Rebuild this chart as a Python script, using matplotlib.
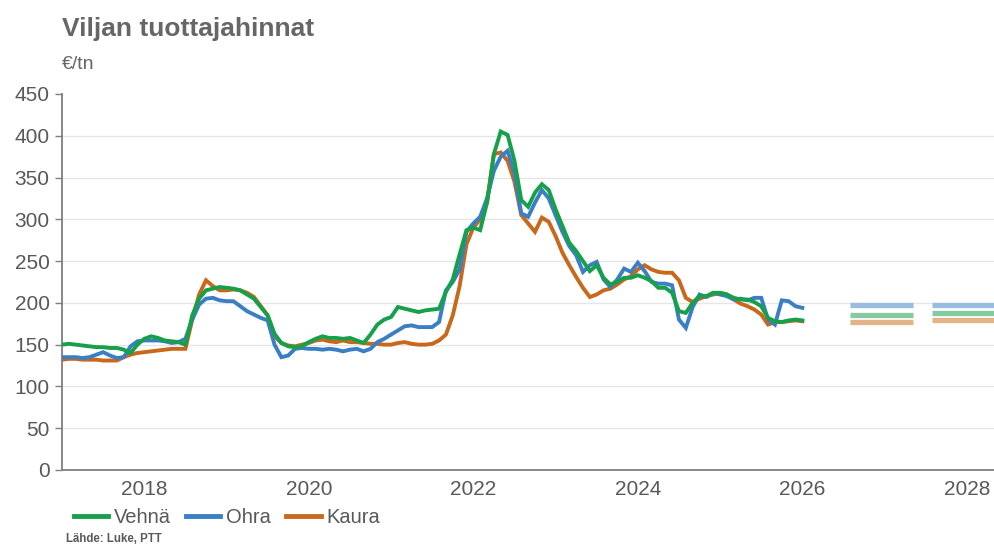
import matplotlib
matplotlib.use("Agg")
import matplotlib.pyplot as plt
import numpy as np

plt.rcParams['font.family'] = ['Liberation Sans', 'DejaVu Sans']

# monthly prices, Jan 2017 .. Jan 2026 (EUR/tn)
start_year = 2017
vehna = [150, 151, 150, 149, 148, 147, 147, 146, 146, 144, 140, 150,
         157, 160, 158, 155, 154, 153, 150, 185, 205, 215, 217, 219,
         218, 217, 215, 210, 205, 195, 185, 163, 152, 148, 147, 148,
         153, 157, 160, 158, 158, 157, 158, 155, 152, 162, 174, 180,
         183, 195, 193, 191, 189, 191, 192, 193, 213, 228, 258, 287,
         290, 287, 320, 378, 405, 401, 370, 323, 315, 332, 342, 335,
         312, 292, 272, 262, 250, 238, 245, 230, 222, 225, 230, 230,
         233, 230, 226, 218, 218, 212, 190, 188, 200, 208, 208, 212,
         212, 210, 206, 204, 204, 201, 196, 182, 178, 177, 179, 180,
         179]
ohra = [135, 135, 135, 134, 135, 138, 141, 137, 134, 135, 148, 154,
        155, 155, 155, 154, 152, 153, 157, 180, 198, 205, 206, 203,
        202, 202, 196, 190, 186, 182, 179, 150, 135, 137, 145, 146,
        145, 145, 144, 145, 144, 142, 144, 145, 142, 145, 153, 157,
        162, 167, 172, 173, 171, 171, 171, 177, 215, 225, 240, 285,
        295, 303, 325, 358, 375, 382, 355, 307, 303, 320, 335, 325,
        305, 285, 268, 257, 237, 245, 249, 228, 219, 228, 241, 237,
        248, 238, 225, 223, 223, 221, 180, 170, 195, 210, 207, 212,
        210, 208, 204, 205, 203, 206, 206, 180, 174, 203, 202, 196,
        194]
kaura = [132, 133, 133, 132, 132, 132, 131, 131, 131, 135, 138, 140,
         141, 142, 143, 144, 145, 145, 145, 180, 210, 227, 220, 215,
         215, 216, 215, 212, 207, 196, 185, 160, 152, 149, 148, 150,
         152, 155, 156, 154, 153, 155, 153, 153, 152, 151, 151, 150,
         150, 152, 153, 151, 150, 150, 151, 155, 162, 185, 220, 270,
         290, 300, 320, 378, 380, 370, 345, 305, 295, 285, 302, 297,
         280, 260, 245, 231, 218, 207, 210, 215, 217, 222, 228, 232,
         240, 245, 240, 237, 236, 236, 227, 206, 201, 205, 208, 210,
         212, 210, 204, 199, 196, 192, 186, 174, 177, 177, 178, 179,
         178]

# forecasts
ennuste_vuodet = [2026, 2027]
vehna_ennuste = [186, 188]
ohra_ennuste = [197, 198]
kaura_ennuste = [177, 180]

c_vehna = '#17a04a'
c_ohra = '#3a7fc6'
c_kaura = '#c9681b'
c_vehna_l = '#86caa0'
c_ohra_l = '#98bbe0'
c_kaura_l = '#e3b487'
grey = '#595959'

x = start_year + np.arange(len(vehna)) / 12.0

fig = plt.figure(figsize=(9.94, 5.49), dpi=100)
ax = fig.add_axes([0.0624, 0.1439, 0.9376, 0.685])

ax.plot(x, kaura, color=c_kaura, lw=2.8, solid_joinstyle='miter', zorder=3)
ax.plot(x, ohra, color=c_ohra, lw=2.8, solid_joinstyle='miter', zorder=4)
ax.plot(x, vehna, color=c_vehna, lw=2.8, solid_joinstyle='miter', zorder=5)

for i, yr in enumerate(ennuste_vuodet):
    x0 = yr + 0.58
    x1 = yr + 1.34
    ax.hlines(ohra_ennuste[i], x0, x1, color=c_ohra_l, lw=3.8)
    ax.hlines(vehna_ennuste[i], x0, x1, color=c_vehna_l, lw=3.8)
    ax.hlines(kaura_ennuste[i], x0, x1, color=c_kaura_l, lw=3.8)

ax.set_xlim(2017.0, 2028.33)
ax.set_ylim(0, 450)
ax.set_yticks(np.arange(0, 451, 50))
ax.set_xticks([2018, 2020, 2022, 2024, 2026, 2028])
ax.set_xticklabels(['2018', '2020', '2022', '2024', '2026', '2028'])
ax.tick_params(axis='x', length=0, pad=7, labelsize=15, labelcolor=grey)
ax.tick_params(axis='y', length=5, width=1, color='#7f7f7f', pad=4,
               labelsize=15, labelcolor=grey)

ax.yaxis.grid(True, color='#e6e6e6', lw=1)
ax.set_axisbelow(True)
gl = ax.get_ygridlines()
gl[0].set_visible(False)
gl[-1].set_visible(False)

for s in ['top', 'right']:
    ax.spines[s].set_visible(False)
ax.spines['left'].set_color('#7f7f7f')
ax.spines['bottom'].set_color('#7f7f7f')
ax.spines['left'].set_linewidth(1.3)
ax.spines['bottom'].set_linewidth(1.3)

fig.text(0.0624, 0.948, 'Viljan tuottajahinnat', fontsize=19,
         fontweight='bold', color='#666666', va='center', ha='left')
fig.text(0.0624, 0.882, '€/tn', fontsize=14, color='#666666',
         va='center', ha='left')

h1, = ax.plot([], [], color=c_vehna, lw=3.5)
h2, = ax.plot([], [], color=c_ohra, lw=3.5)
h3, = ax.plot([], [], color=c_kaura, lw=3.5)
leg = fig.legend([h1, h2, h3], ['Vehnä', 'Ohra', 'Kaura'], ncol=3,
                 loc='center left', bbox_to_anchor=(0.064, 0.058),
                 frameon=False, fontsize=14.5, handlelength=1.7,
                 handletextpad=0.3, columnspacing=0.75, borderpad=0)
for t in leg.get_texts():
    t.set_color(grey)

fig.text(0.066, 0.008, 'Lähde: Luke, PTT', fontsize=8.3, fontweight='bold',
         color='#595959', va='bottom', ha='left')

fig.savefig('out.png', dpi=100)
